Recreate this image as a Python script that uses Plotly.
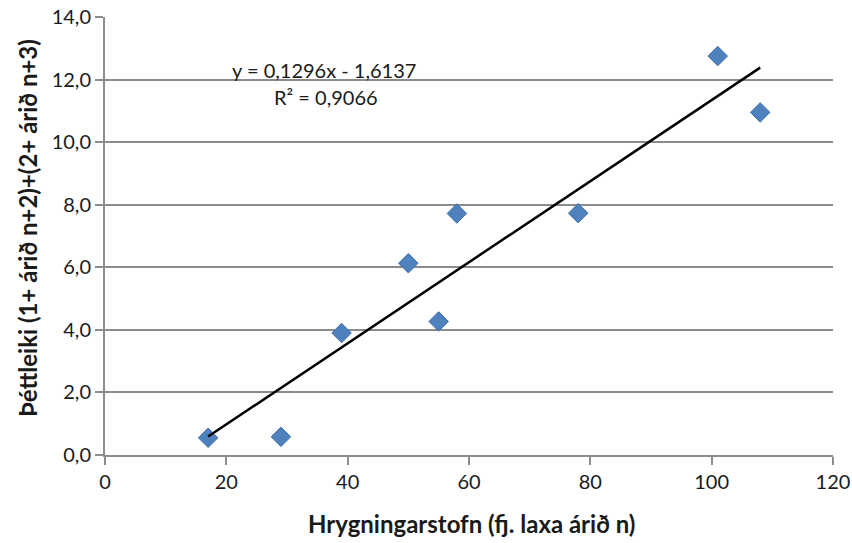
import numpy as np
import plotly.graph_objects as go

x_vals = [17, 29, 39, 50, 55, 58, 78, 101, 108]
y_vals = [0.55, 0.58, 3.9, 6.13, 4.27, 7.72, 7.73, 12.75, 10.95]
slope = 0.1296
intercept = -1.6137
eq_text = "y = 0,1296x - 1,6137"
r2_text = "R² = 0,9066"
x_title = "Hrygningarstofn (fj. laxa árið n)"
y_title = "Þéttleiki (1+ árið n+2)+(2+ árið n+3)"

FONT = "Lato, Open Sans, sans-serif"
GRID = "#8c8c8c"
TXT = "#1a1a1a"

tx = np.array([min(x_vals), max(x_vals)])
ty = slope * tx + intercept

fig = go.Figure()
fig.add_trace(go.Scatter(x=x_vals, y=y_vals, mode="markers",
                         marker=dict(symbol="diamond", size=15, color="#4F81BD",
                                     line=dict(color="#3F6FA8", width=1)),
                         showlegend=False))
fig.add_trace(go.Scatter(x=tx, y=ty, mode="lines",
                         line=dict(color="black", width=2.5), showlegend=False))

fig.add_annotation(x=36.1, y=12.3, text=eq_text, showarrow=False,
                   font=dict(family=FONT, size=20, color=TXT))
fig.add_annotation(x=36.4, y=11.45, text=r2_text, showarrow=False,
                   font=dict(family=FONT, size=20, color=TXT))

# axis titles
fig.add_annotation(xref="paper", yref="paper", x=(471 - 105) / 728, y=-(523 - 455) / 438,
                   text="<b>" + x_title + "</b>", showarrow=False,
                   xanchor="center", yanchor="middle",
                   font=dict(family=FONT, size=24, color=TXT))
fig.add_annotation(xref="paper", yref="paper", x=-(105 - 27) / 728, y=(455 - 228) / 438,
                   text="<b>" + y_title + "</b>", showarrow=False, textangle=-90,
                   xanchor="center", yanchor="middle",
                   font=dict(family=FONT, size=24, color=TXT))

fig.update_layout(
    width=852, height=543,
    margin=dict(l=105, r=19, t=17, b=88),
    plot_bgcolor="white", paper_bgcolor="white",
    separators=", ",
    font=dict(family=FONT, size=20, color=TXT),
)
fig.update_xaxes(range=[0, 120], dtick=20, tick0=0, showgrid=False,
                 showline=True, linecolor=GRID, linewidth=2,
                 ticks="outside", ticklen=8, tickcolor=GRID, tickwidth=2,
                 tickfont=dict(family=FONT, size=20, color=TXT),
                 zeroline=False, automargin=False)
fig.update_yaxes(range=[0, 14], dtick=2, tick0=0, tickformat=".1f",
                 showgrid=True, gridcolor=GRID, gridwidth=2,
                 showline=True, linecolor=GRID, linewidth=2,
                 ticks="outside", ticklen=8, tickcolor=GRID, tickwidth=2,
                 tickfont=dict(family=FONT, size=20, color=TXT),
                 zeroline=False, automargin=False)

fig.write_html("out.html")
